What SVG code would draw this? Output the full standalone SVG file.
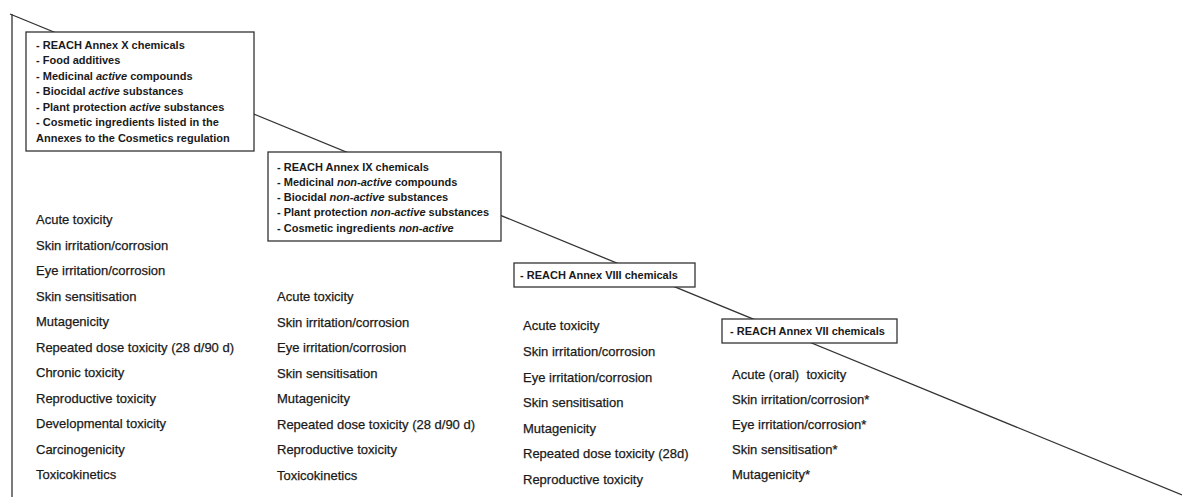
<svg xmlns="http://www.w3.org/2000/svg" width="1182" height="497" viewBox="0 0 1182 497">
<style>
.ln{stroke:#333;stroke-width:1.3;fill:none}
.box{fill:#fff;stroke:#333;stroke-width:1.3}
.bt{font-family:"Liberation Sans",Arial,sans-serif;font-weight:bold;font-size:11px;fill:#1a1a1a}
.ct{font-family:"Liberation Sans",Arial,sans-serif;font-size:13px;fill:#1a1a1a;stroke:#1a1a1a;stroke-width:0.25}
.i{font-style:italic}
</style>
<rect width="1182" height="497" fill="#fff"/>
<g id="connectors">
<line class="ln" x1="12" y1="14" x2="12" y2="497"/>
<line class="ln" x1="10" y1="14" x2="1182" y2="495"/>
</g>
<g id="annexX">
<rect class="box" x="26" y="32" width="228" height="119"/>
<text class="bt" x="36" y="49">- REACH Annex X chemicals</text>
<text class="bt" x="36" y="64">- Food additives</text>
<text class="bt" x="36" y="80">- Medicinal <tspan class="i">active</tspan> compounds</text>
<text class="bt" x="36" y="95">- Biocidal <tspan class="i">active</tspan> substances</text>
<text class="bt" x="36" y="111">- Plant protection <tspan class="i">active</tspan> substances</text>
<text class="bt" x="36" y="126">- Cosmetic ingredients listed in the</text>
<text class="bt" x="36" y="142">Annexes to the Cosmetics regulation</text>
</g>
<g id="annexIX">
<rect class="box" x="268" y="152" width="233" height="89"/>
<text class="bt" x="277" y="171">- REACH Annex IX chemicals</text>
<text class="bt" x="277" y="186">- Medicinal <tspan class="i">non-active</tspan> compounds</text>
<text class="bt" x="277" y="201">- Biocidal <tspan class="i">non-active</tspan> substances</text>
<text class="bt" x="277" y="216">- Plant protection <tspan class="i">non-active</tspan> substances</text>
<text class="bt" x="277" y="232">- Cosmetic ingredients <tspan class="i">non-active</tspan></text>
</g>
<g id="annexVIII">
<rect class="box" x="514" y="263" width="181" height="24"/>
<text class="bt" x="520" y="279">- REACH Annex VIII chemicals</text>
</g>
<g id="annexVII">
<rect class="box" x="722" y="319" width="175" height="24"/>
<text class="bt" x="730" y="335">- REACH Annex VII chemicals</text>
</g>
<g id="endpointsX">
<text class="ct" x="36" y="224">Acute toxicity</text>
<text class="ct" x="36" y="250">Skin irritation/corrosion</text>
<text class="ct" x="36" y="275">Eye irritation/corrosion</text>
<text class="ct" x="36" y="301">Skin sensitisation</text>
<text class="ct" x="36" y="326">Mutagenicity</text>
<text class="ct" x="36" y="352">Repeated dose toxicity (28 d/90 d)</text>
<text class="ct" x="36" y="377">Chronic toxicity</text>
<text class="ct" x="36" y="403">Reproductive toxicity</text>
<text class="ct" x="36" y="428">Developmental toxicity</text>
<text class="ct" x="36" y="454">Carcinogenicity</text>
<text class="ct" x="36" y="479">Toxicokinetics</text>
</g>
<g id="endpointsIX">
<text class="ct" x="277" y="301">Acute toxicity</text>
<text class="ct" x="277" y="327">Skin irritation/corrosion</text>
<text class="ct" x="277" y="352">Eye irritation/corrosion</text>
<text class="ct" x="277" y="378">Skin sensitisation</text>
<text class="ct" x="277" y="403">Mutagenicity</text>
<text class="ct" x="277" y="429">Repeated dose toxicity (28 d/90 d)</text>
<text class="ct" x="277" y="454">Reproductive toxicity</text>
<text class="ct" x="277" y="480">Toxicokinetics</text>
</g>
<g id="endpointsVIII">
<text class="ct" x="523" y="330">Acute toxicity</text>
<text class="ct" x="523" y="356">Skin irritation/corrosion</text>
<text class="ct" x="523" y="382">Eye irritation/corrosion</text>
<text class="ct" x="523" y="407">Skin sensitisation</text>
<text class="ct" x="523" y="433">Mutagenicity</text>
<text class="ct" x="523" y="458">Repeated dose toxicity (28d)</text>
<text class="ct" x="523" y="484">Reproductive toxicity</text>
</g>
<g id="endpointsVII">
<text class="ct" x="732" y="379" xml:space="preserve">Acute (oral)  toxicity</text>
<text class="ct" x="732" y="404">Skin irritation/corrosion*</text>
<text class="ct" x="732" y="429">Eye irritation/corrosion*</text>
<text class="ct" x="732" y="454">Skin sensitisation*</text>
<text class="ct" x="732" y="479">Mutagenicity*</text>
</g>
</svg>
